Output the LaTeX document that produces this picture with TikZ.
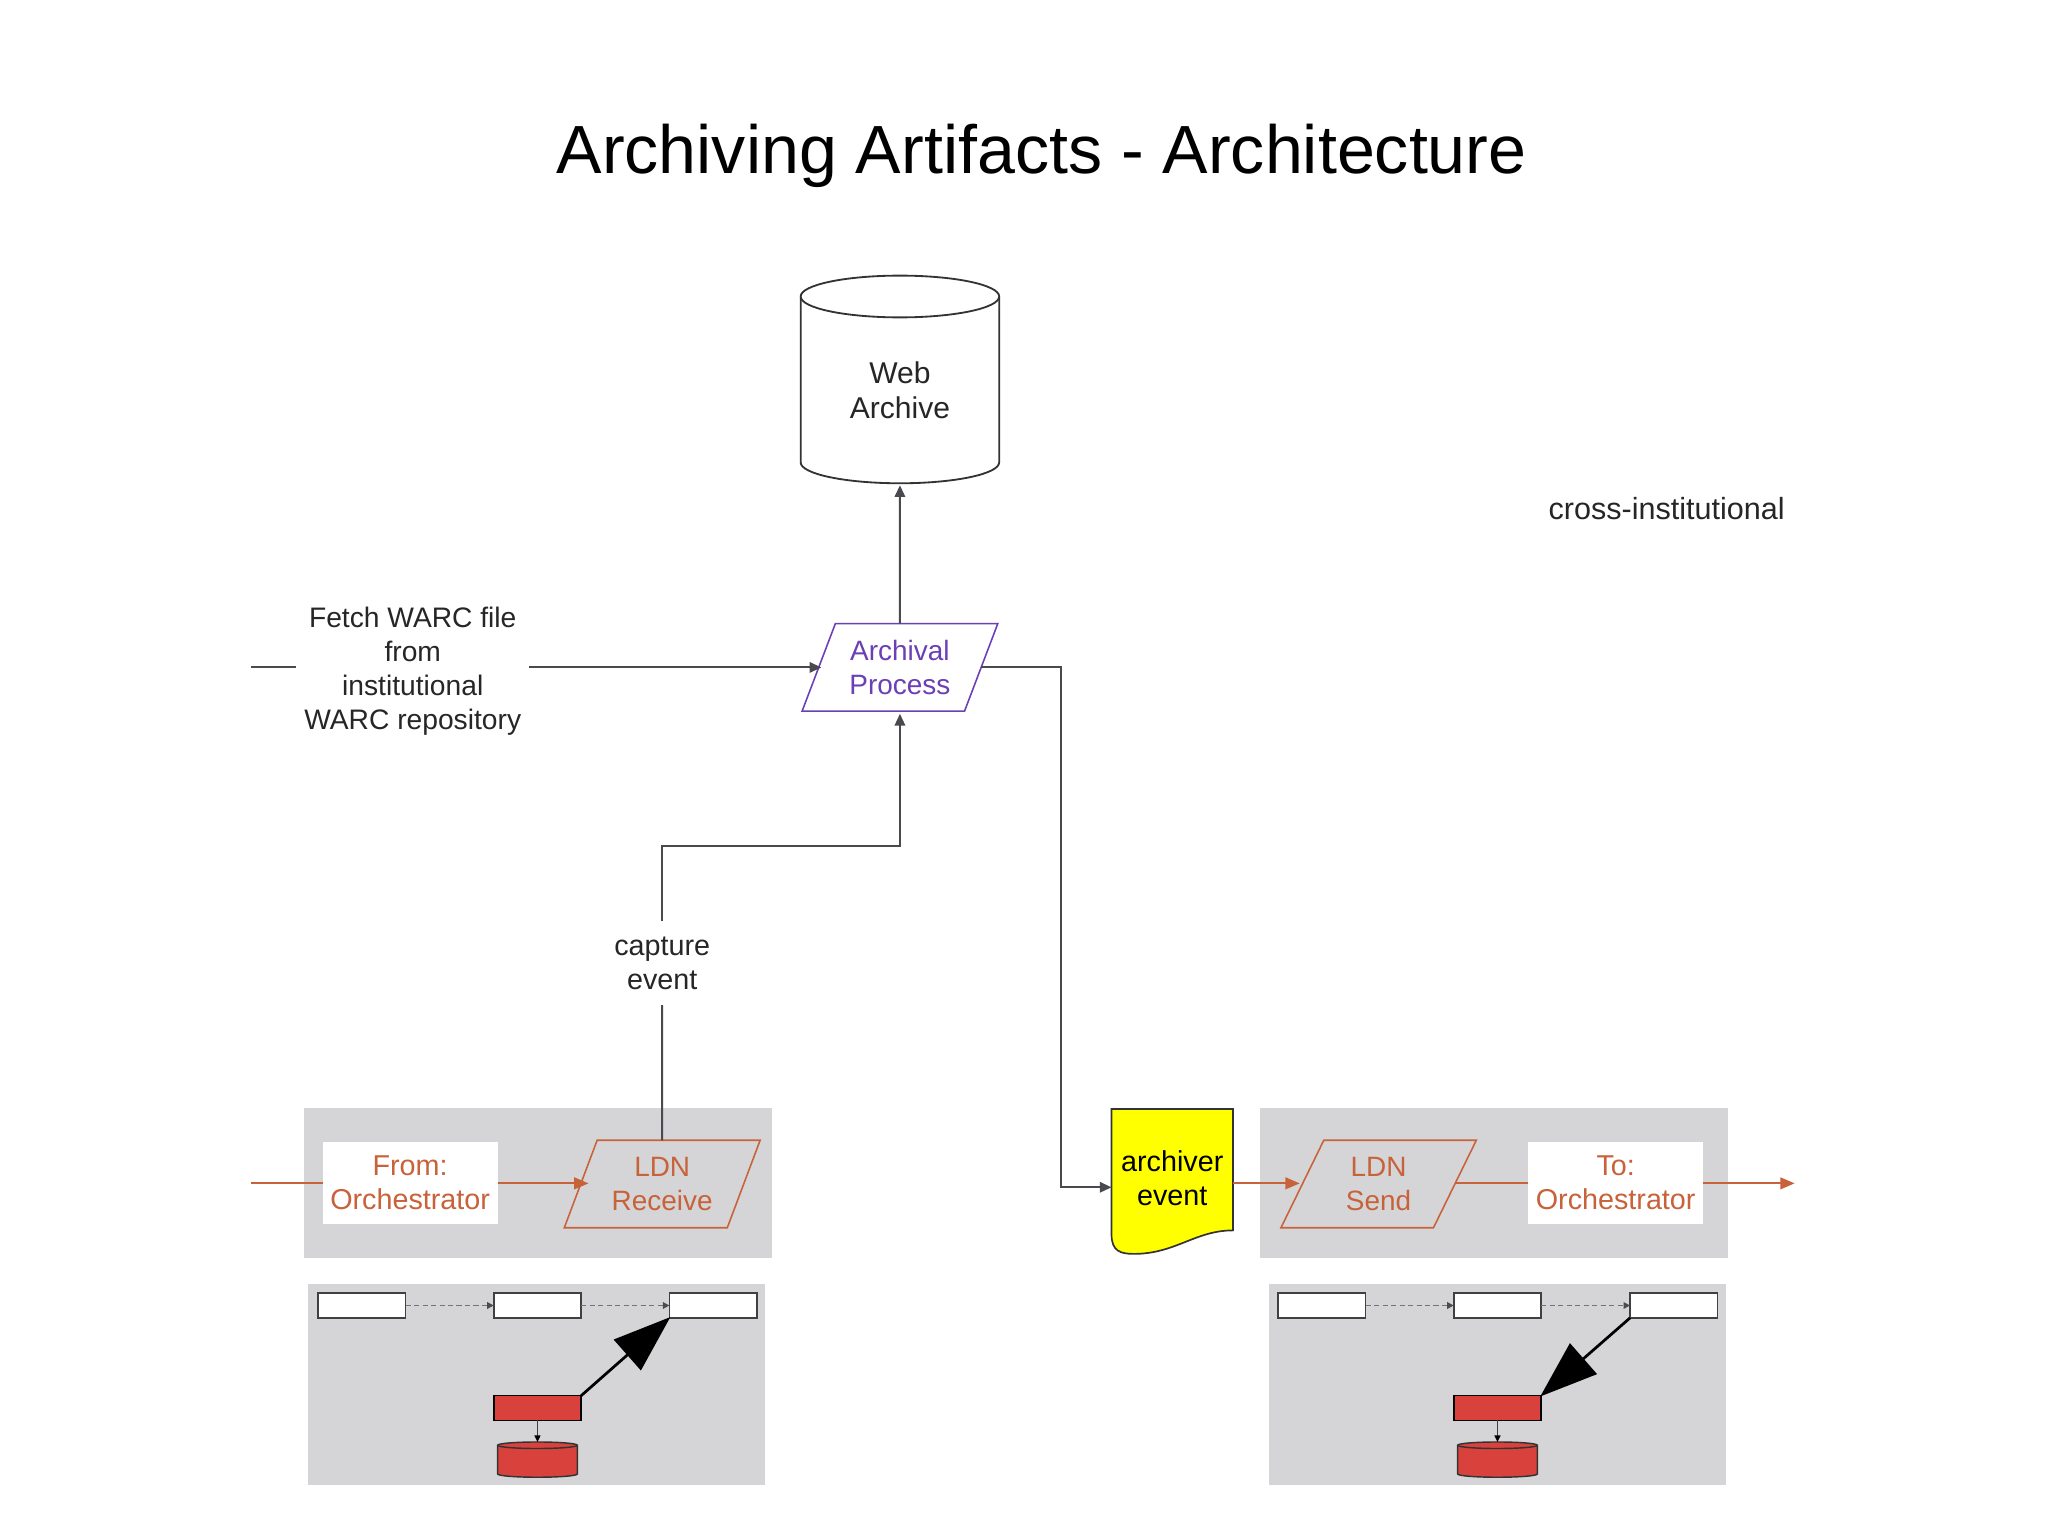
\documentclass[tikz,border=0pt]{standalone}
\usepackage{fontspec}
\setmainfont{Liberation Sans}
\usetikzlibrary{shapes.geometric,arrows.meta,calc}
\definecolor{panelgray}{HTML}{D5D5D7}
\definecolor{wire}{HTML}{4A4A4E}
\definecolor{ldn}{HTML}{C8623A}
\definecolor{purp}{HTML}{6B3FB5}
\definecolor{dbred}{HTML}{D9423C}
\definecolor{docyellow}{HTML}{FFFF00}
% outline of a drum round an invisible rectangular node: node, x radius, y radius, style
\newcommand{\drumbody}[4]{%
  \draw[#4] ($(#1.north west)+(0,#3)$) arc[start angle=180,end angle=0,x radius=#2pt,y radius=#3pt]
    -- ($(#1.south east)+(0,-#3)$) arc[start angle=360,end angle=180,x radius=#2pt,y radius=#3pt] -- cycle;
  \draw[#4,fill=none] ($(#1.north west)+(0,#3)$) arc[start angle=180,end angle=360,x radius=#2pt,y radius=#3pt];
}
\tikzset{
  every node/.style={inner sep=0pt,outer sep=0pt},
  lbl/.style={font=\fontsize{22}{26}\selectfont,align=center,text=black!85},
  wireline/.style={draw=wire,line width=1.5pt},
  wirearrow/.style={wireline,-{Triangle[length=9pt,width=8pt]}},
  ldnline/.style={draw=ldn,line width=1.4pt},
  ldnarrow/.style={ldnline,-{Triangle[length=11pt,width=9pt,color=ldn]}},
  para/.style={trapezium,trapezium stretches=true,trapezium left angle=64.5,trapezium right angle=115.5,minimum width=150pt,minimum height=67pt,line width=1.2pt,font=\fontsize{21.4}{26}\selectfont,align=center},
  gpanel/.style={fill=panelgray,draw=none,minimum height=115pt,minimum width=358pt},
  spanel/.style={fill=panelgray,draw=none,minimum height=154pt,minimum width=350pt},
  wbox/.style={fill=white,draw=none,minimum width=134pt,minimum height=63pt,font=\fontsize{22}{26}\selectfont,align=center,text=ldn},
  stage/.style={fill=white,draw=black!75,line width=1.3pt,minimum width=67pt,minimum height=19pt},
  redstage/.style={stage,fill=dbred,draw=black},
  reddb/.style={minimum width=61pt,minimum height=27pt},
  dbline/.style={draw=black!80,line width=1.1pt,fill=dbred},
  webline/.style={draw=black!80,line width=1.4pt,fill=white},
  dasharrow/.style={draw=black!55,line width=1.4pt,dash pattern=on 4pt off 2.5pt,-{Triangle[length=5pt,width=5pt,color=black!70]}},
  minor/.style={draw=black!75,line width=1.1pt,-{Triangle[length=5pt,width=4.5pt,color=black]}},
  big/.style={draw=black,line width=2.1pt,-{Triangle[length=44pt,width=31pt,color=black]},shorten >=-1pt},
}
\begin{document}
\begin{tikzpicture}[x=1pt,y=-1pt]
\useasboundingbox (0,0) rectangle (1568,1176);
\fill[white] (0,0) rectangle (1568,1176);
\node[font=\fontsize{52.2}{56}\selectfont,text=black] (title) at (797.5,119) {Archiving Artifacts - Architecture};
\node[lbl,font=\fontsize{23.4}{26}\selectfont] (cross) at (1276,389.5) {cross-institutional};

% panels
\node[gpanel] (pl) at (412,905.5) {};
\node[gpanel] (pr) at (1144,905.5) {};
\node[spanel] (sl) at (411,1060) {};
\node[spanel] (sr) at (1146.5,1060) {};

% main nodes
\node[minimum width=152pt,minimum height=159pt] (web) at (689,290.5) {};
\drumbody{web}{76}{16}{webline}
\node[lbl,font=\fontsize{23}{27}\selectfont] (webtxt) at (689,299) {Web\\Archive};
\node[para,draw=purp,text=purp] (arch) at (689,511) {Archival\\Process};
\node[lbl,font=\fontsize{21.6}{26}\selectfont,minimum width=178pt] (fetch) at (316,514) {Fetch WARC file\\from\\institutional\\WARC repository};
\node[lbl,minimum height=64pt] (cap) at (507,737.5) {capture\\event};
\node[wbox] (from) at (314,905.5) {From:\\Orchestrator};
\node[para,draw=ldn,text=ldn] (lr) at (507,906.5) {LDN\\Receive};
\node[para,draw=ldn,text=ldn] (ls) at (1055.5,906.5) {LDN\\Send};
\node[wbox] (to) at (1237,905.5) {To:\\Orchestrator};

% archiver event document
\draw[fill=docyellow,draw=black!80,line width=1.3pt] (851,849) -- (944,849) -- (944,942) .. controls (915,942) and (900,960) .. (868,960) .. controls (858,960) and (851,958) .. (851,945) -- cycle;
\node[lbl,text=black,minimum width=93pt,minimum height=106pt] (doc) at (897.5,902) {archiver\\event};

% free ends and bends
\coordinate (fetchin) at (192,511);
\coordinate (bend) at (507,648);
\coordinate (archout) at (812,511);
\coordinate (fromin) at (192,906);
\coordinate (toout) at (1374,906);

% connectors
\draw[wireline] (fetchin) -- (fetch.west |- fetchin);
\draw[wirearrow,shorten >=-2pt] (fetch.east |- fetchin) -- (arch.west |- fetchin);
\draw[wirearrow,shorten >=1.5pt] (arch.north) -- (web.south);
\draw[wireline] (lr.north) -- (cap.south);
\draw[wirearrow,shorten >=2pt] (cap.north) -- (bend) -| (arch.south);
\draw[wirearrow] (arch.east |- archout) -- (archout) |- ([yshift=-7pt]doc.west);
\draw[ldnline] (fromin) -- (from.west |- fromin);
\draw[ldnarrow,shorten >=-6pt] (from.east |- fromin) -- (lr.west |- fromin);
\draw[ldnarrow,shorten >=2pt] (doc.east |- fromin) -- (ls.west |- fromin);
\draw[ldnline] (ls.east |- fromin) -- (to.west |- fromin);
\draw[ldnarrow] (to.east |- toout) -- (toout);

% lower left panel
\node[stage] (a1) at (277,999.5) {};
\node[stage] (a2) at (411.5,999.5) {};
\node[stage] (a3) at (546,999.5) {};
\node[redstage] (ar) at (411.5,1078) {};
\node[reddb] (adb) at (411.5,1117.5) {};
\drumbody{adb}{30.5}{2.5}{dbline}
\draw[dasharrow] (a1) -- (a2);
\draw[dasharrow] (a2) -- (a3);
\draw[minor] (ar) -- (adb.north);
\draw[big] (ar.north east) -- (a3.south west);

% lower right panel
\node[stage] (b1) at (1012,999.5) {};
\node[stage] (b2) at (1146.5,999.5) {};
\node[stage] (b3) at (1281.5,999.5) {};
\node[redstage] (br) at (1146.5,1078) {};
\node[reddb] (bdb) at (1146.5,1117.5) {};
\drumbody{bdb}{30.5}{2.5}{dbline}
\draw[dasharrow] (b1) -- (b2);
\draw[dasharrow] (b2) -- (b3);
\draw[minor] (br) -- (bdb.north);
\draw[big] (b3.south west) -- (br.north east);
\end{tikzpicture}
\end{document}
